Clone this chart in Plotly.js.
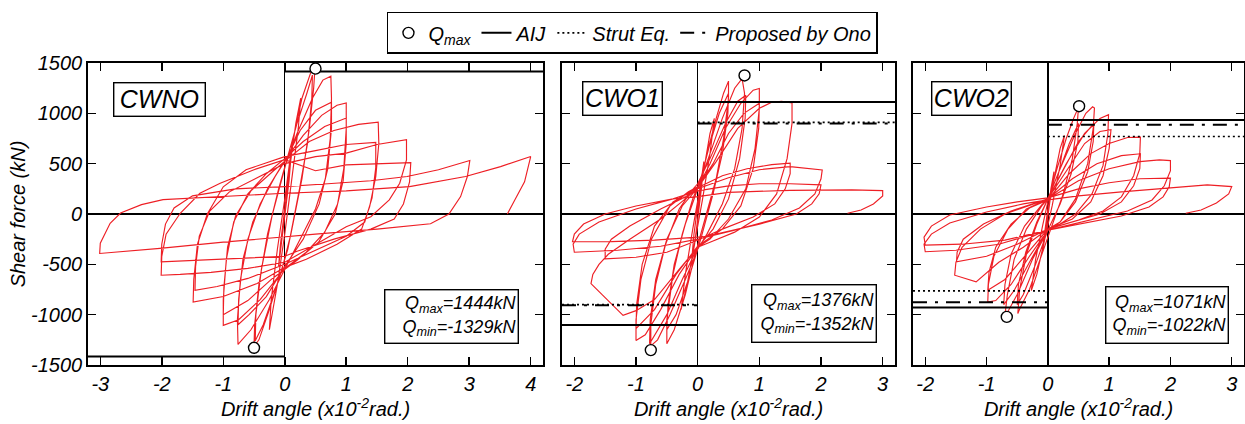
<!DOCTYPE html>
<html>
<head>
<meta charset="utf-8">
<script src="https://cdn.plot.ly/plotly-3.0.1.min.js"></script>
<style>html,body{margin:0;padding:0;background:#fff;}#chart{width:1245px;height:424px;}</style>
</head>
<body>
<div id="chart"></div>
<script>
// ---------- DATA ----------
const specimens = ['CWNO', 'CWO1', 'CWO2'];
const qmaxLabel = [1444, 1376, 1071];
const qminLabel = [-1329, -1352, -1022];
const qmaxDrift = [0.50, 0.76, 0.51];
const qminDrift = [-0.50, -0.76, -0.67];
const aijPos = [1415, 1113, 934];
const aijNeg = [-1415, -1103, -930];
const strutPos = [null, 910, 770];
const strutNeg = [null, -900, -764];
const onoPos = [null, 898, 887];
const onoNeg = [null, -906, -877];
const xTicks1 = [-3, -2, -1, 0, 1, 2, 3, 4];
const xTicks23 = [-2, -1, 0, 1, 2, 3];
const yTicks = [-1500, -1000, -500, 0, 500, 1000, 1500];

// hysteresis loops: [drift (x10^-2 rad), shear (kN)]
const cwnoLoop = [
[0,0],[0.05,380],[0.1,560],[0.07,330],[0.02,80],[-0.04,-250],[-0.1,-520],[-0.07,-300],[-0.02,-40],
[0.08,450],[0.18,900],[0.26,1150],[0.22,850],[0.12,350],[0.0,-200],[-0.12,-700],[-0.25,-1150],[-0.22,-850],[-0.12,-350],[0,150],
[0.12,700],[0.28,1150],[0.42,1400],[0.49,1430],[0.47,1250],[0.4,850],[0.28,350],[0.1,-200],[-0.05,-560],[-0.25,-950],[-0.42,-1250],[-0.5,-1315],[-0.49,-1100],[-0.42,-700],[-0.28,-200],[-0.1,250],[0.02,520],
[0.2,900],[0.36,1200],[0.45,1380],[0.44,1150],[0.37,700],[0.24,250],[0.05,-350],[-0.15,-750],[-0.35,-1100],[-0.48,-1260],[-0.47,-1000],[-0.38,-550],[-0.2,0],[0.02,500],
[0.2,800],[0.45,1150],[0.62,1330],[0.75,1369],[0.76,1150],[0.74,750],[0.66,350],[0.5,50],[0.25,-250],[0.0,-540],[-0.25,-850],[-0.55,-1150],[-0.76,-1296],[-0.77,-1050],[-0.72,-650],[-0.6,-250],[-0.4,100],[-0.15,380],[0.03,550],
[0.25,830],[0.5,1030],[0.76,1110],[0.76,850],[0.7,450],[0.56,100],[0.3,-250],[0.0,-520],[-0.3,-820],[-0.58,-1000],[-0.76,-1100],[-0.75,-850],[-0.68,-450],[-0.52,-80],[-0.28,250],[0.0,530],
[0.3,780],[0.6,980],[0.85,1080],[1.0,1103],[1.0,850],[0.96,450],[0.86,100],[0.65,-180],[0.35,-380],[0.0,-540],[-0.4,-850],[-0.75,-1050],[-1.0,-1106],[-1.0,-850],[-0.95,-450],[-0.83,-80],[-0.6,200],[-0.3,400],[0.0,550],
[0.3,720],[0.65,870],[1.0,953],[1.0,700],[0.95,330],[0.82,0],[0.55,-280],[0.2,-460],[-0.2,-640],[-0.6,-860],[-1.0,-1000],[-0.99,-730],[-0.93,-330],[-0.8,-20],[-0.55,230],[-0.2,420],[0.03,540],
[0.4,720],[0.8,830],[1.2,890],[1.52,913],[1.53,700],[1.48,370],[1.38,70],[1.25,-150],[0.85,-300],[0.35,-450],[0.0,-530],[-0.45,-690],[-1.0,-820],[-1.49,-874],[-1.48,-650],[-1.42,-300],[-1.26,0],[-1.0,270],[-0.63,440],[0.0,570],
[0.5,630],[1.0,690],[1.48,711],[1.48,460],[1.42,160],[1.3,-80],[1.0,-220],[0.5,-360],[0.0,-500],[-0.6,-640],[-1.1,-720],[-1.46,-757],[-1.45,-520],[-1.39,-220],[-1.22,30],[-0.9,220],[-0.4,380],[0.0,500],
[0.5,570],[1.0,605],[1.5,690],[1.98,738],[1.98,538],[1.87,306],[1.7,140],[1.4,-27],[1.0,-126],[0.5,-300],[0.0,-480],[-0.6,-540],[-1.2,-580],[-1.7,-600],[-2.01,-608],[-2.0,-420],[-1.93,-200],[-1.7,7],[-1.38,206],[-1.05,306],[-0.5,440],[0.0,540],
[0.5,430],[1.0,488],[1.5,500],[2.05,511],[2.03,320],[1.93,100],[1.78,-50],[1.4,-150],[0.8,-250],[0.2,-370],[0.0,-420],[-0.8,-440],[-1.5,-460],[-2.01,-475],[-2.0,-300],[-1.94,-100],[-1.8,60],[-1.5,180],[-0.8,250],[0.0,272],
[0.7,300],[1.4,330],[1.99,372],[2.5,440],[3.01,531],[2.97,372],[2.86,173],[2.67,0],[2.37,-97],[1.5,-150],[0.5,-200],[0.0,-226],[-1.0,-280],[-2.03,-342],[-3.01,-392],[-3.0,-290],[-2.84,-92],[-2.67,10],[-2.33,93],[-1.98,143],[-1.41,163],[-0.5,195],[0.0,206],
[1.0,230],[2.03,272],[2.94,372],[3.51,471],[4.0,571],[3.9,320],[3.75,150],[3.62,0]
];
const cwo1Loop = [
[0,0],[0.05,300],[0.1,520],[0.06,250],[0,-50],[-0.05,-300],[-0.1,-480],[-0.06,-200],[0,80],
[0.1,450],[0.2,800],[0.27,950],[0.2,600],[0.08,150],[-0.05,-300],[-0.17,-700],[-0.27,-950],[-0.2,-600],[-0.08,-150],[0.02,200],
[0.15,600],[0.3,950],[0.42,1200],[0.5,1320],[0.5,1150],[0.42,750],[0.3,350],[0.12,-50],[-0.05,-420],[-0.2,-800],[-0.38,-1150],[-0.5,-1289],[-0.5,-1050],[-0.4,-600],[-0.25,-200],[-0.08,150],[0.05,350],
[0.2,700],[0.35,1000],[0.5,1200],[0.49,1000],[0.4,600],[0.25,200],[0.05,-250],[-0.15,-650],[-0.35,-1000],[-0.5,-1150],[-0.48,-900],[-0.38,-500],[-0.2,-100],[0.0,250],
[0.2,600],[0.4,950],[0.6,1250],[0.72,1345],[0.76,1200],[0.72,850],[0.6,450],[0.4,100],[0.15,-200],[0,-350],[-0.2,-650],[-0.45,-1000],[-0.65,-1250],[-0.76,-1310],[-0.76,-1100],[-0.68,-700],[-0.52,-300],[-0.3,50],[-0.1,230],[0.0,300],
[0.2,550],[0.45,900],[0.65,1120],[0.78,1180],[0.77,950],[0.68,550],[0.5,150],[0.25,-150],[0,-330],[-0.25,-650],[-0.5,-1000],[-0.7,-1200],[-0.78,-1289],[-0.77,-1050],[-0.68,-650],[-0.5,-250],[-0.25,80],[0.0,260],
[0.2,500],[0.45,850],[0.7,1100],[0.9,1230],[1.0,1246],[1.0,1050],[0.93,650],[0.78,250],[0.5,-50],[0.2,-250],[0,-330],[-0.3,-600],[-0.6,-950],[-0.85,-1200],[-1.0,-1256],[-1.0,-1050],[-0.92,-650],[-0.75,-250],[-0.45,80],[-0.15,220],[0.0,270],
[0.25,500],[0.5,800],[0.75,1000],[1.0,1100],[0.99,850],[0.9,450],[0.7,80],[0.4,-150],[0.0,-320],[-0.35,-600],[-0.7,-950],[-1.0,-1139],[-0.99,-900],[-0.9,-500],[-0.7,-120],[-0.4,120],[0.0,260],
[0.3,520],[0.65,850],[1.0,1050],[1.2,1110],[1.36,1120],[1.53,1103],[1.53,900],[1.45,550],[1.28,200],[1.0,-30],[0.6,-180],[0.2,-280],[0,-330],[-0.3,-550],[-0.7,-850],[-1.0,-960],[-1.21,-1007],[-1.73,-691],[-1.7,-600],[-1.6,-500],[-1.45,-400],[-1.1,-250],[-0.6,-50],[-0.2,150],[0,260],
[0.4,380],[0.8,450],[1.2,490],[1.5,505],[1.5,400],[1.42,250],[1.25,100],[0.9,-30],[0.4,-150],[0,-260],[-0.5,-380],[-1.0,-430],[-1.5,-445],[-1.5,-350],[-1.4,-250],[-1.1,-120],[-0.6,50],[-0.2,170],[0,250],
[0.5,360],[1.0,440],[1.5,470],[2.02,438],[2.0,350],[1.9,200],[1.65,60],[1.2,-60],[0.6,-160],[0,-250],[-0.6,-320],[-1.3,-360],[-2.0,-380],[-2.02,-300],[-1.92,-200],[-1.6,-80],[-1.0,50],[-0.4,150],[0,230],
[0.5,280],[1.0,300],[1.5,300],[2.0,290],[1.97,200],[1.85,100],[1.6,0],[1.0,-100],[0.3,-200],[0,-230],[-0.7,-260],[-1.4,-275],[-2.03,-276],[-2.0,-200],[-1.85,-100],[-1.5,0],[-1.0,80],[-0.4,150],[0,173],
[0.5,215],[1.5,235],[2.5,240],[3.0,232],[3.0,180],[2.85,100],[2.65,40],[2.43,7]
];
const cwo2Loop = [
[0,0],[0.05,250],[0.1,420],[0.05,180],[0,-30],[-0.05,-250],[-0.1,-400],[-0.05,-150],[0,50],
[0.1,350],[0.2,650],[0.27,780],[0.2,480],[0.07,80],[-0.07,-300],[-0.18,-600],[-0.27,-760],[-0.2,-450],[-0.08,-100],[0.0,120],
[0.15,450],[0.3,750],[0.42,950],[0.5,1060],[0.48,900],[0.4,550],[0.25,200],[0.05,-150],[-0.1,-400],[-0.3,-750],[-0.45,-930],[-0.49,-990],[-0.46,-750],[-0.35,-400],[-0.18,-100],[0,150],
[0.2,450],[0.35,700],[0.5,900],[0.49,720],[0.38,400],[0.2,100],[0,-160],[-0.2,-500],[-0.4,-800],[-0.5,-900],[-0.48,-700],[-0.36,-380],[-0.18,-80],[0,150],
[0.2,450],[0.45,800],[0.62,1000],[0.73,1065],[0.76,1053],[0.74,850],[0.65,500],[0.45,150],[0.2,-80],[0,-160],[-0.25,-450],[-0.5,-800],[-0.68,-1000],[-0.7,-1005],[-0.66,-800],[-0.55,-450],[-0.35,-150],[-0.1,80],[0.0,150],
[0.25,430],[0.5,720],[0.75,900],[0.74,720],[0.65,420],[0.45,120],[0.2,-80],[0,-150],[-0.3,-480],[-0.55,-760],[-0.72,-900],[-0.7,-700],[-0.6,-400],[-0.38,-120],[-0.1,90],[0,150],
[0.3,500],[0.6,800],[0.85,950],[0.99,987],[0.98,800],[0.9,480],[0.72,200],[0.45,0],[0.15,-120],[0,-160],[-0.3,-420],[-0.6,-700],[-0.85,-860],[-0.98,-874],[-0.97,-700],[-0.88,-420],[-0.65,-150],[-0.35,50],[0,150],
[0.3,430],[0.6,700],[0.85,820],[1.03,837],[1.0,650],[0.9,380],[0.7,120],[0.4,-50],[0,-150],[-0.35,-400],[-0.7,-650],[-0.98,-757],[-0.96,-580],[-0.85,-330],[-0.6,-100],[-0.3,60],[0,140],
[0.35,400],[0.7,600],[1.0,700],[1.3,760],[1.51,764],[1.5,600],[1.4,380],[1.2,170],[0.9,30],[0.5,-60],[0,-150],[-0.4,-330],[-0.8,-480],[-1.17,-674],[-1.52,-608],[-1.5,-480],[-1.4,-330],[-1.1,-150],[-0.7,0],[-0.3,90],[0,150],
[0.4,350],[0.8,500],[1.2,580],[1.51,598],[1.5,450],[1.4,280],[1.2,120],[0.85,0],[0.4,-80],[0,-150],[-0.5,-300],[-1.0,-420],[-1.49,-475],[-1.48,-380],[-1.38,-250],[-1.05,-100],[-0.6,30],[-0.2,110],[0,150],
[0.5,330],[1.0,450],[1.5,520],[1.82,538],[2.0,530],[2.0,430],[1.9,280],[1.7,140],[1.3,30],[0.7,-60],[0,-160],[-0.7,-260],[-1.4,-300],[-2.0,-309],[-2.02,-230],[-1.9,-120],[-1.6,-10],[-1.0,70],[-0.5,120],[0,160],
[0.5,250],[1.0,310],[1.5,350],[2.0,356],[1.98,270],[1.88,170],[1.65,70],[1.2,-20],[0.5,-100],[0,-160],[-0.8,-300],[-1.5,-360],[-2.0,-375],[-2.02,-300],[-1.9,-200],[-1.6,-90],[-1.0,20],[-0.4,100],[0,140],
[0.5,180],[1.2,220],[2.0,260],[2.6,290],[3.0,272],[2.95,200],[2.75,110],[2.5,40],[2.25,7]
];
const loops = [cwnoLoop, cwo1Loop, cwo2Loop];

// ---------- LAYOUT / STYLE ----------
const FONT = 'Liberation Sans, Arial, sans-serif';
const xRanges = [[-3.2, 4.2], [-2.2, 3.2], [-2.2, 3.2]];
const xDomains = [[0.07068, 0.43614], [0.45141, 0.71888], [0.73333, 0.9992]];
const yDomain = [0.13915, 0.85142];
const RED = '#ee1f25';

const traces = [];
for (let i = 0; i < 3; i++) {
  const xa = i === 0 ? 'x' : 'x' + (i + 1);
  const ya = i === 0 ? 'y' : 'y' + (i + 1);
  const r = xRanges[i];
  traces.push({
    x: loops[i].map(p => p[0]), y: loops[i].map(p => p[1]),
    xaxis: xa, yaxis: ya, type: 'scatter', mode: 'lines',
    line: {color: RED, width: 1.15}, showlegend: false, hoverinfo: 'skip'
  });
  // AIJ
  traces.push({x: [0, r[1], null, r[0], 0], y: [aijPos[i], aijPos[i], null, aijNeg[i], aijNeg[i]],
    xaxis: xa, yaxis: ya, mode: 'lines', line: {color: '#000', width: 2},
    name: 'AIJ', legendgroup: 'aij', showlegend: i === 0, legendrank: 2});
  if (strutPos[i] !== null) {
    traces.push({x: [0, r[1], null, r[0], 0], y: [strutPos[i], strutPos[i], null, strutNeg[i], strutNeg[i]],
      xaxis: xa, yaxis: ya, mode: 'lines', line: {color: '#000', width: 1.6, dash: '2px,3px'},
      name: 'Strut Eq.', legendgroup: 'strut', showlegend: i === 1, legendrank: 3});
    traces.push({x: [0, r[1], null, r[0], 0], y: [onoPos[i], onoPos[i], null, onoNeg[i], onoNeg[i]],
      xaxis: xa, yaxis: ya, mode: 'lines', line: {color: '#000', width: 2, dash: '14px,8px,3px,8px'},
      name: 'Proposed by Ono', legendgroup: 'ono', showlegend: i === 1, legendrank: 4});
  }
  traces.push({x: [qmaxDrift[i], qminDrift[i]], y: [qmaxLabel[i], qminLabel[i]],
    xaxis: xa, yaxis: ya, mode: 'markers',
    marker: {symbol: 'circle', size: 11, color: '#fff', line: {color: '#000', width: 1.4}},
    name: 'Q<sub>max</sub>', legendgroup: 'q', showlegend: i === 0, legendrank: 1});
}

const tickFont = {family: FONT, size: 20, color: '#000', style: 'italic'};
const titleFont = {family: FONT, size: 20, color: '#000', style: 'italic'};
const layout = {
  width: 1245, height: 424,
  margin: {l: 0, r: 0, t: 0, b: 0},
  paper_bgcolor: '#fff', plot_bgcolor: '#fff',
  showlegend: true,
  legend: {orientation: 'h', x: 0.508, y: 0.972, xanchor: 'center', yanchor: 'top',
    bordercolor: '#000', borderwidth: 1.5, bgcolor: '#fff',
    font: {family: FONT, size: 20, color: '#000', style: 'italic'},
    itemwidth: 30, traceorder: 'normal', tracegroupgap: 0},
  annotations: [],
  shapes: []
};
for (let i = 0; i < 3; i++) {
  const sfx = i === 0 ? '' : String(i + 1);
  const tv = i === 0 ? xTicks1 : xTicks23;
  layout['xaxis' + sfx] = {
    domain: xDomains[i], range: xRanges[i], anchor: 'y' + sfx,
    tickvals: tv, ticktext: tv.map(v => String(v)),
    ticks: 'inside', ticklen: 8, tickwidth: 1.5, tickcolor: '#000',
    showline: true, linecolor: '#000', linewidth: 1.8, mirror: 'ticks',
    showgrid: false, zeroline: true, zerolinecolor: '#000', zerolinewidth: 1.4,
    tickfont: tickFont, fixedrange: true,
    title: {text: 'Drift angle (x10<sup>-2</sup>rad.)', font: titleFont, standoff: 3}
  };
  layout['yaxis' + sfx] = {
    domain: yDomain, range: [-1500, 1500], anchor: 'x' + sfx,
    tickvals: yTicks, ticktext: yTicks.map(v => String(v)),
    showticklabels: i === 0,
    ticks: 'inside', ticklen: 8, tickwidth: 1.5, tickcolor: '#000',
    showline: true, linecolor: '#000', linewidth: 1.8, mirror: 'ticks',
    showgrid: false, zeroline: true, zerolinecolor: '#000', zerolinewidth: 1.4,
    tickfont: tickFont, fixedrange: true,
    title: i === 0 ? {text: 'Shear force (kN)', font: titleFont, standoff: 0} : {text: ''}
  };
}
// specimen name boxes
const nameBoxes = [[0.1281, 0.7649, 88], [0.5002, 0.7672, 76], [0.7805, 0.7672, 76]];
for (let i = 0; i < 3; i++) {
  layout.annotations.push({
    xref: 'paper', yref: 'paper', x: nameBoxes[i][0], y: nameBoxes[i][1],
    xanchor: 'center', yanchor: 'middle', showarrow: false,
    text: specimens[i], width: nameBoxes[i][2], height: 30, borderpad: 1,
    bordercolor: '#000', borderwidth: 1.4, bgcolor: '#fff',
    font: {family: FONT, size: 25, color: '#000', style: 'italic'}
  });
}
// Qmax/Qmin boxes
const qBoxes = [[0.3628, 0.2535, 130, 50], [0.6536, 0.2599, 121, 54], [0.9373, 0.2571, 119, 53]];
for (let i = 0; i < 3; i++) {
  layout.annotations.push({
    xref: 'paper', yref: 'paper', x: qBoxes[i][0], y: qBoxes[i][1],
    xanchor: 'center', yanchor: 'middle', showarrow: false, align: 'right',
    text: 'Q<sub>max</sub>=' + qmaxLabel[i] + 'kN<br>Q<sub>min</sub>=' + String(qminLabel[i]) + 'kN',
    width: qBoxes[i][2], height: qBoxes[i][3], borderpad: 1,
    bordercolor: '#000', borderwidth: 1.4, bgcolor: '#fff',
    font: {family: FONT, size: 18, color: '#000', style: 'italic'}
  });
}
Plotly.newPlot('chart', traces, layout, {staticPlot: true, displayModeBar: false});
</script>
</body>
</html>
